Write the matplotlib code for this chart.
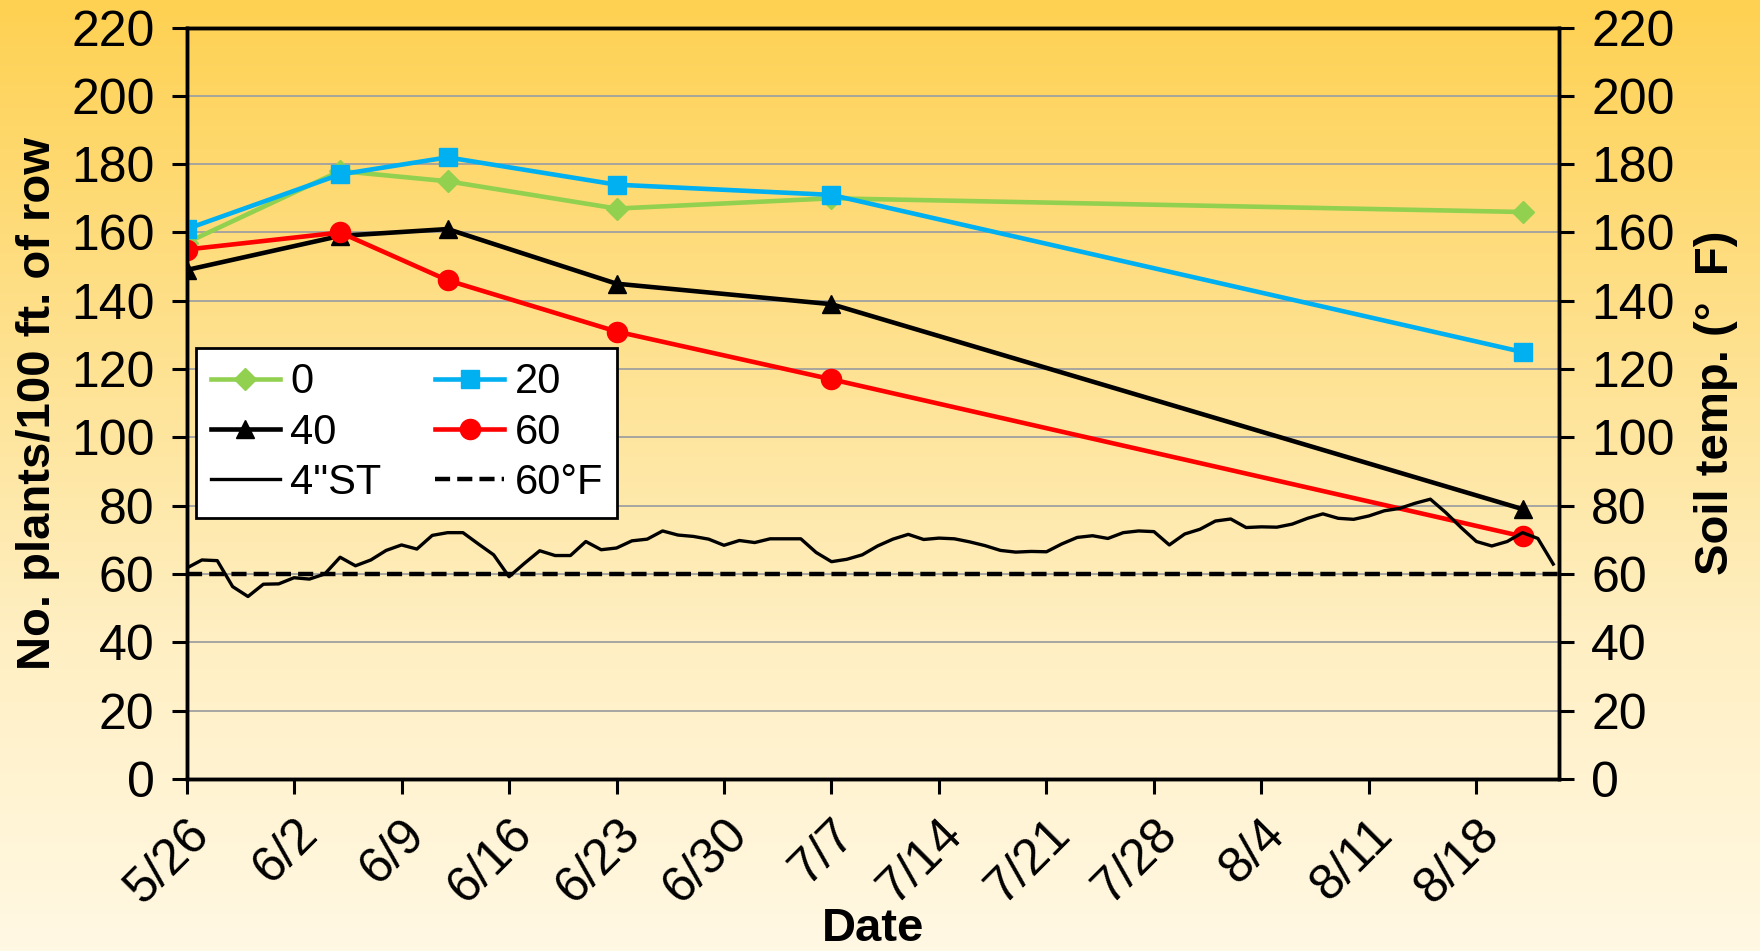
import numpy as np
import matplotlib
matplotlib.use("Agg")
import matplotlib.pyplot as plt
from matplotlib.colors import LinearSegmentedColormap

plt.rcParams["font.family"] = ["Liberation Sans", "DejaVu Sans"]

# sampling dates, as days after 5/26
sample_days = [0, 10, 17, 28, 42, 87]
stand_0 = [157, 178, 175, 167, 170, 166]
stand_20 = [161, 177, 182, 174, 171, 125]
stand_40 = [149, 159, 161, 145, 139, 79]
stand_60 = [155, 160, 146, 131, 117, 71]

# daily 4-inch soil temperature, 5/26 onwards
soil_temp = [61.7, 64.1, 63.9, 56.3, 53.4, 57.0, 57.1, 58.9, 58.5, 60.0,
             64.9, 62.4, 64.1, 66.9, 68.5, 67.3, 71.3, 72.1, 72.1, 68.8,
             65.6, 59.2, 63.1, 66.8, 65.4, 65.4, 69.5, 67.1, 67.6, 69.7,
             70.2, 72.6, 71.4, 71.0, 70.2, 68.4, 69.8, 69.2, 70.3, 70.3,
             70.3, 66.3, 63.6, 64.3, 65.6, 68.2, 70.2, 71.6, 70.1, 70.5,
             70.3, 69.4, 68.3, 66.9, 66.4, 66.6, 66.5, 68.8, 70.7, 71.2,
             70.4, 72.1, 72.6, 72.4, 68.5, 71.7, 73.1, 75.5, 76.1, 73.6,
             73.8, 73.7, 74.6, 76.3, 77.6, 76.3, 76.0, 77.0, 78.5, 79.2,
             80.7, 81.9, 78.0, 73.6, 69.5, 68.2, 69.5, 72.1, 70.4, 62.9]

tick_days = list(range(0, 85, 7))
tick_labels = ["5/26", "6/2", "6/9", "6/16", "6/23", "6/30", "7/7",
               "7/14", "7/21", "7/28", "8/4", "8/11", "8/18"]
y_ticks = list(range(0, 221, 20))

fig = plt.figure(figsize=(17.6, 9.51), dpi=100)

# gradient backdrop
bg = fig.add_axes([0, 0, 1, 1], zorder=-10)
cmap = LinearSegmentedColormap.from_list(
    "warm", ["#FFD152", "#FEE08A", "#FFEFC2", "#FFF8E3"])
grad = np.linspace(0, 1, 256).reshape(-1, 1)
bg.imshow(grad, aspect="auto", cmap=cmap, extent=[0, 1, 0, 1])
bg.set_axis_off()

ax = fig.add_axes([0.106, 0.181, 0.780, 0.790])
ax.patch.set_alpha(0)

for v in y_ticks[1:-1]:
    ax.axhline(v, color="#A0A0A0", lw=1.3, zorder=1)

ax.plot(sample_days, stand_0, color="#92D050", lw=3.3, marker="D", ms=11.5,
        label="0", zorder=3)
ax.plot(sample_days, stand_20, color="#00B0F0", lw=3.3, marker="s", ms=13.5,
        label="20", zorder=4)
ax.plot(sample_days, stand_40, color="black", lw=3.3, marker="^", ms=13.5,
        label="40", zorder=5)
ax.plot(sample_days, stand_60, color="#FF0000", lw=3.3, marker="o", ms=14.5,
        label="60", zorder=6)

ax2 = ax.twinx()
temp_days = np.arange(len(soil_temp))
ln_st, = ax2.plot(temp_days, soil_temp, color="black", lw=2.4, label='4"ST')
ln_60, = ax2.plot([0, 89.4], [60, 60], color="black", lw=3.2,
                  dashes=(3.4, 1.6), label="60°F")

for a in (ax, ax2):
    a.set_xlim(0, 89.4)
    a.set_ylim(0, 220)
    a.set_yticks(y_ticks)
    a.tick_params(axis="both", labelsize=36, width=2.2, length=11,
                  direction="out", pad=12)
    for s in a.spines.values():
        s.set_linewidth(2.5)

ax.set_xticks(tick_days)
ax.set_xticklabels(tick_labels, rotation=45, ha="right",
                   rotation_mode="anchor")
ax.tick_params(axis="x", pad=12)

ax.set_ylabel("No. plants/100 ft. of row", fontsize=34, fontweight="bold",
              labelpad=8)
ax2.set_ylabel("Soil temp. (°  F)", fontsize=34, fontweight="bold",
               labelpad=14)
ax.set_xlabel("Date", fontsize=34, fontweight="bold", labelpad=-4)

h1, l1 = ax.get_legend_handles_labels()
handles = [h1[0], h1[1], h1[2], h1[3], ln_st, ln_60]
labels = [l1[0], l1[1], l1[2], l1[3], '4"ST', "60°F"]
# row-wise ordering for a two-column legend
order = [0, 2, 4, 1, 3, 5]
leg = ax.legend([handles[i] for i in order], [labels[i] for i in order],
                ncol=2, loc="upper left", bbox_to_anchor=(0.007, 0.574),
                borderaxespad=0, fontsize=30, frameon=True, fancybox=False,
                handlelength=1.65, handletextpad=0.25, columnspacing=1.3,
                labelspacing=0.25, borderpad=0.35, markerscale=1.0)
leg.get_frame().set_edgecolor("black")
leg.get_frame().set_linewidth(2)
leg.get_frame().set_facecolor("white")
leg.get_frame().set_alpha(1)
leg.set_zorder(20)

fig.savefig("out.png", dpi=100)
